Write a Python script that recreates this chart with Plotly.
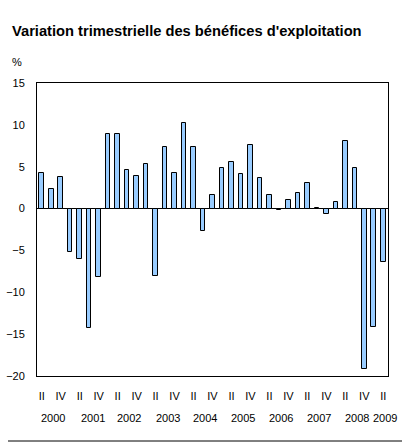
import plotly.graph_objects as go

quarters = ["II", "III", "IV",
            "I", "II", "III", "IV",
            "I", "II", "III", "IV",
            "I", "II", "III", "IV",
            "I", "II", "III", "IV",
            "I", "II", "III", "IV",
            "I", "II", "III", "IV",
            "I", "II", "III", "IV",
            "I", "II", "III", "IV",
            "I", "II"]
values = [4.3, 2.3, 3.8,
          -5.2, -6.0, -14.3, -8.2,
          8.9, 8.9, 4.6, 3.9,
          5.3, -8.1, 7.4, 4.3,
          10.2, 7.4, -2.7, 1.6,
          4.9, 5.6, 4.1, 7.6,
          3.7, 1.6, -0.15, 1.0,
          1.9, 3.0, 0.1, -0.6,
          0.8, 8.1, 4.9, -19.2,
          -14.2, -6.4]
years = ["2000", "2001", "2002", "2003", "2004", "2005", "2006", "2007", "2008", "2009"]
year_label_pos = [1.2, 5.4, 9.2, 13.3, 17.2, 21.2, 25.2, 29.2, 33.2, 36.2]
y_ticks = [15, 10, 5, 0, -5, -10, -15, -20]

x = list(range(len(values)))
tickvals = [i for i, q in enumerate(quarters) if q in ("II", "IV")]
ticktext = [quarters[i] for i in tickvals]

FONT = "Liberation Sans, Arial, sans-serif"
W, H = 409, 448
L, R, T, B = 37, 21, 83, 72
PW, PH = W - L - R, H - T - B


def px(xp):
    return (xp - L) / PW


def py(yp):
    return (H - B - yp) / PH


fig = go.Figure()
fig.add_trace(go.Bar(
    x=x, y=values, width=0.48,
    marker=dict(color="#99CCFF", line=dict(color="black", width=1)),
    hoverinfo="y",
))

fig.update_layout(
    template="none",
    width=W, height=H,
    margin=dict(l=L, r=R, t=T, b=B, autoexpand=False),
    paper_bgcolor="white", plot_bgcolor="white",
    showlegend=False,
    font=dict(family=FONT, size=11, color="black"),
    bargap=0,
    xaxis=dict(
        range=[-0.5, len(values) - 0.5], automargin=False,
        tickmode="array", tickvals=tickvals, ticktext=ticktext,
        showgrid=False, zeroline=False,
        showline=True, linecolor="black", linewidth=1, mirror=True,
        ticks="", ticklabelstandoff=10,
        tickfont=dict(family=FONT, size=11, color="black"),
    ),
    yaxis=dict(
        range=[-20, 15], automargin=False,
        tickmode="array", tickvals=y_ticks,
        showgrid=False,
        zeroline=True, zerolinecolor="black", zerolinewidth=1,
        showline=True, linecolor="black", linewidth=1, mirror=True,
        ticks="", ticklabelstandoff=9,
        tickfont=dict(family=FONT, size=11, color="black"),
    ),
)

for yr, pos in zip(years, year_label_pos):
    fig.add_annotation(x=pos, y=py(418), xref="x", yref="paper", yanchor="middle",
                       text=yr, showarrow=False,
                       font=dict(family=FONT, size=11, color="black"))

fig.add_annotation(x=px(10), y=py(31), xref="paper", yref="paper",
                   xanchor="left", yanchor="middle", showarrow=False,
                   text="<b>Variation trimestrielle des bénéfices d'exploitation</b>",
                   font=dict(family=FONT, size=14.7, color="black"))
fig.add_annotation(x=px(10), y=py(62), xref="paper", yref="paper",
                   xanchor="left", yanchor="middle", showarrow=False,
                   text="%", font=dict(family=FONT, size=11, color="black"))

fig.add_shape(type="line", xref="paper", yref="paper",
              x0=px(8), x1=px(402), y0=py(441), y1=py(441),
              line=dict(color="black", width=1))

fig.write_html("out.html", config={"displayModeBar": False},
               post_script="document.body.style.margin='0';document.body.style.overflow='hidden';")
